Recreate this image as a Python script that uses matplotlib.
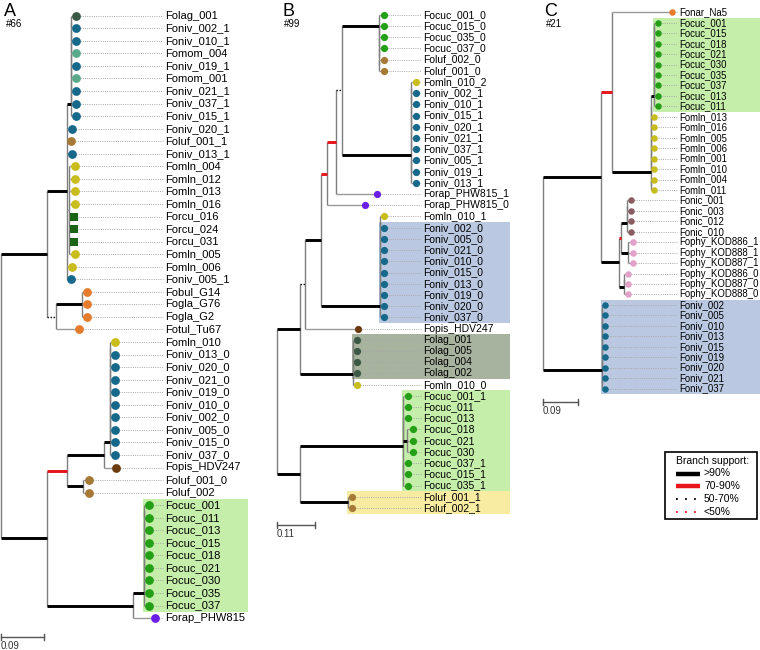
import matplotlib
matplotlib.use('Agg')
import matplotlib.pyplot as plt
from matplotlib.patches import Rectangle

plt.rcParams['font.family'] = ['Liberation Sans', 'DejaVu Sans']

# trees in newick, branch lengths in substitutions/site, node label = branch support (%)
tree_A = (
    "((("
    "((((((((Folag_001:0.0105,Foniv_002_1:0.0105):0,Foniv_010_1:0.0105):0,Fomom_004:0.0105):0,"
    "Foniv_019_1:0.0105):0,Fomom_001:0.0105):0,Foniv_021_1:0.0105):0,Foniv_037_1:0.0105):0,"
    "Foniv_015_1:0.0105)100:0.0084,"
    "Foniv_020_1:0.0105,Foluf_001_1:0.0084,Foniv_013_1:0.0105,"
    "(Fomln_004:0.0126,Fomln_012:0.0126,Fomln_013:0.0126,Fomln_016:0.0126,Forcu_016:0.0105,"
    "Forcu_024:0.0105,Forcu_031:0.0105,Fomln_005:0.0126):0.0042,"
    "Fomln_006:0.0105,Foniv_005_1:0.0084)100:0.0419,"
    "((Fobul_G14:0.0105,Fogla_G76:0.0105,Fogla_G2:0.0105)100:0.0544,Fotul_Tu67:0.0481)60:0.0188"
    ")100:0.0963,"
    "((("
    "(((((((((Fomln_010:0.0105,Foniv_013_0:0.0105):0,Foniv_020_0:0.0105):0,Foniv_021_0:0.0105):0,"
    "Foniv_019_0:0.0105):0,Foniv_010_0:0.0105):0,Foniv_002_0:0.0105):0,Foniv_005_0:0.0105):0,"
    "Foniv_015_0:0.0105):0,Foniv_037_0:0.0105)100:0.0126,"
    "Fopis_HDV247:0.0251)100:0.0774,"
    "(Foluf_001_0:0.0126,Foluf_002:0.0126)100:0.0335)80:0.0419,"
    "(((((((((Focuc_001:0.0105,Focuc_011:0.0105):0,Focuc_013:0.0105):0,Focuc_015:0.0105):0,"
    "Focuc_018:0.0105):0,Focuc_021:0.0105):0,Focuc_030:0.0105):0,Focuc_035:0.0105):0,"
    "Focuc_037:0.0105)100:0.023,"
    "Forap_PHW815:0.046)100:0.18"
    ")100:0.0963);"
)

tree_B = (
    "(("
    "((((("
    "(Focuc_001_0:0.0136,(Focuc_015_0:0.0136,(Focuc_035_0:0.0136,(Focuc_037_0:0.0136,"
    "(Foluf_002_0:0.0136,Foluf_001_0:0.0136):0):0):0):0)100:0.1071,"
    "(((((((Fomln_010_2:0.0136,Foniv_002_1:0.0136):0,Foniv_010_1:0.0136):0,Foniv_015_1:0.0136):0,"
    "Foniv_020_1:0.0136):0,Foniv_021_1:0.0136):0,Foniv_037_1:0.0136):0,"
    "(Foniv_005_1:0.0136,Foniv_019_1:0.0136,Foniv_013_1:0.0136):0)100:0.1988"
    ")60:0.0191,Forap_PHW815_1:0.1195)80:0.026,"
    "Forap_PHW815_0:0.1109)80:0.0174,"
    "(((((((((Fomln_010_1:0.0116,Foniv_002_0:0.0116):0,Foniv_005_0:0.0116):0,Foniv_021_0:0.0116):0,"
    "Foniv_010_0:0.0116):0,Foniv_015_0:0.0116):0,Foniv_013_0:0.0116):0,Foniv_019_0:0.0116):0,"
    "Foniv_020_0:0.0116):0,Foniv_037_0:0.0116)100:0.1716"
    ")100:0.0454,Fopis_HDV247:0.1534)60:0.0145,"
    "((((Folag_001:0.0098,Folag_005:0.0098):0,Folag_004:0.0098):0,Folag_002:0.0098):0,"
    "Fomln_010_0:0.0098)100:0.1543"
    ")100:0.0666,"
    "(((Focuc_001_1:0.0127,Focuc_011:0.0127,Focuc_013:0.0127,"
    "(Focuc_018:0.0174,Focuc_021:0.0174,Focuc_030:0.0174)100:0.0098):0,"
    "(Focuc_037_1:0.0127,Focuc_015_1:0.0127,Focuc_035_1:0.0127):0)100:0.299,"
    "(Foluf_001_1:0.0116,Foluf_002_1:0.0116)100:0.1381"
    ")100:0.0666);"
)

tree_C = (
    "(("
    "(Fonar_Na5:0.1558,"
    "((((((("
    "((((((((Focuc_001:0.0103,Focuc_015:0.0103):0,Focuc_018:0.0103):0,Focuc_021:0.0103):0,"
    "Focuc_030:0.0103):0,Focuc_035:0.0103):0,Focuc_037:0.0103):0,Focuc_013:0.0103):0,"
    "Focuc_011:0.0103)100:0.0085,"
    "Fomln_013:0.0085):0,Fomln_016:0.0085):0,Fomln_005:0.0085):0,Fomln_006:0.0085):0,"
    "Fomln_001:0.0085):0,Fomln_010:0.0085):0,(Fomln_004:0.0085,Fomln_011:0.0085):0)100:0.101"
    ")80:0.0275,"
    "(("
    "(((Fonic_001:0.0095,Fonic_003:0.0095):0,Fonic_012:0.0095):0,Fonic_010:0.0095)100:0.017,"
    "(Fophy_KOD886_1:0.0113,Fophy_KOD888_1:0.0113,Fophy_KOD887_1:0.0113)100:0.0195"
    ")80:0.0036,"
    "((Fophy_KOD886_0:0.0095,Fophy_KOD887_0:0.0095):0,Fophy_KOD888_0:0.0095)100:0.0129"
    ")100:0.0471"
    ")100:0.1499,"
    "(((((((Foniv_002:0.0077,Foniv_005:0.0077):0,Foniv_010:0.0077):0,Foniv_013:0.0077):0,"
    "Foniv_015:0.0077):0,Foniv_019:0.0077):0,Foniv_020:0.0077):0,"
    "(Foniv_021:0.0077,Foniv_037:0.0077):0)100:0.1525);"
)

# species colours (first 5 letters of the tip name)
species_colors = {
    'Folag': '#3b5944', 'Foniv': '#16698a', 'Fomom': '#5aa98a', 'Foluf': '#a67a36',
    'Fomln': '#c8bd1c', 'Forcu': '#1b6415', 'Fobul': '#e57b2c', 'Fogla': '#e57b2c',
    'Fotul': '#e57b2c', 'Fonar': '#e57b2c', 'Fopis': '#6b3b0d', 'Focuc': '#24a017',
    'Forap': '#6b1fe6', 'Fonic': '#8a5c64', 'Fophy': '#e3a0c9',
}
square_species = ['Forcu']

# highlighted clades: first tip, last tip, colour
highlights_A = [('Focuc_001', 'Focuc_037', '#c6eeab')]
highlights_B = [('Foniv_002_0', 'Foniv_037_0', '#bac9e1'),
                ('Folag_001', 'Folag_002', '#a8b39f'),
                ('Focuc_001_1', 'Focuc_035_1', '#c6eeab'),
                ('Foluf_001_1', 'Foluf_002_1', '#f8eca2')]
highlights_C = [('Focuc_001', 'Focuc_011', '#c6eeab'),
                ('Foniv_002', 'Foniv_037', '#bac9e1')]

panel_letters = ['A', 'B', 'C']
panel_counts = ['#66', '#99', '#21']
scale_values = [0.09, 0.11, 0.09]

legend_labels = ['>90%', '70-90%', '50-70%', '<50%']


def parse_newick(s):
    s = s.strip().rstrip(';')
    pos = 0

    def node():
        nonlocal pos
        n = {'children': [], 'name': '', 'support': None, 'length': 0.0}
        if s[pos] == '(':
            pos += 1
            while True:
                n['children'].append(node())
                if s[pos] == ',':
                    pos += 1
                    continue
                pos += 1  # ')'
                break
        start = pos
        while pos < len(s) and s[pos] not in ',():':
            pos += 1
        label = s[start:pos]
        if n['children']:
            if label:
                n['support'] = float(label)
        else:
            n['name'] = label
        if pos < len(s) and s[pos] == ':':
            pos += 1
            start = pos
            while pos < len(s) and s[pos] not in ',()':
                pos += 1
            n['length'] = float(s[start:pos])
        return n

    return node()


def layout(tree, x0, ppu, y0, dy):
    leaves = []

    def walk(n, depth):
        n['x'] = x0 + depth * ppu
        if not n['children']:
            n['y'] = y0 + len(leaves) * dy
            n['tips'] = [n['name']]
            leaves.append(n)
        else:
            n['tips'] = []
            for c in n['children']:
                walk(c, depth + c['length'])
                n['tips'] += c['tips']
            n['y'] = (n['children'][0]['y'] + n['children'][-1]['y']) / 2
    walk(tree, 0.0)
    return leaves


def find_clade(n, a, b):
    # deepest node holding both tips
    for c in n['children']:
        if a in c['tips'] and b in c['tips']:
            return find_clade(c, a, b)
    return n


def branch_style(n):
    if not n['children'] or n['support'] is None:
        return dict(color='#999999', lw=1.0)
    sup = n['support']
    if sup >= 90:
        return dict(color='black', lw=2.1)
    if sup >= 70:
        return dict(color='#e8141c', lw=2.1)
    if sup >= 50:
        return dict(color='black', lw=1.0, linestyle=(0, (1, 1.2)))
    return dict(color='#e8141c', lw=1.0, linestyle=(0, (1, 1.2)))


def draw_branches(ax, n):
    if not n['children']:
        return
    ax.plot([n['x'], n['x']], [n['children'][0]['y'], n['children'][-1]['y']],
            color='#7f7f7f', lw=1.0, zorder=2, solid_capstyle='butt')
    for c in n['children']:
        if c['x'] > n['x']:
            ax.plot([n['x'], c['x']], [c['y'], c['y']], zorder=3,
                    solid_capstyle='butt', **branch_style(c))
        draw_branches(ax, c)


def draw_panel(ax, newick, highlights, x0, ppu, y0, dy, label_x, box_right,
               fsize, dot_s, letter, count, scale_val, scale_y):
    tree = parse_newick(newick)
    leaves = layout(tree, x0, ppu, y0, dy)
    ypos = {l['name']: l['y'] for l in leaves}

    # coloured boxes behind clades
    for a, b, col in highlights:
        clade = find_clade(tree, a, b)
        top = ypos[a] - dy / 2
        ax.add_patch(Rectangle((clade['x'] - 1, top), box_right - clade['x'] + 1,
                               ypos[b] - ypos[a] + dy, facecolor=col,
                               edgecolor='none', zorder=0))

    draw_branches(ax, tree)

    r = (dot_s ** 0.5) * 100 / 72 / 2
    for l in leaves:
        sp = l['name'][:5]
        ax.plot([l['x'] + r, label_x - 2], [l['y'], l['y']], color='#a8a8a8',
                lw=0.7, linestyle=(0, (1, 1.3)), zorder=1)
        ax.scatter([l['x']], [l['y']], s=dot_s, color=species_colors[sp],
                   marker='s' if sp in square_species else 'o', linewidths=0, zorder=4)
        ax.text(label_x, l['y'], l['name'], fontsize=fsize, va='center', ha='left', zorder=5)

    # scale bar
    x1 = x0 + scale_val * ppu
    ax.plot([x0, x1], [scale_y, scale_y], color='#555555', lw=1.0)
    ax.plot([x0, x0], [scale_y - 3, scale_y + 3], color='#555555', lw=1.0)
    ax.plot([x1, x1], [scale_y - 3, scale_y + 3], color='#555555', lw=1.0)
    ax.text(x0, scale_y + 4, str(scale_val), fontsize=7, va='top', ha='left', color='#333333')

    # heading
    ax.text(letter[1], 16, letter[0], fontsize=13, va='baseline', ha='left')
    ax.text(letter[1] + 2, 27, count, fontsize=7, va='baseline', ha='left')


fig = plt.figure(figsize=(7.6, 6.5), dpi=100)
ax = fig.add_axes([0, 0, 1, 1])
ax.set_xlim(0, 760)
ax.set_ylim(650, 0)
ax.axis('off')

draw_panel(ax, tree_A, highlights_A, 1, 477.8, 15.7, 12.55, 165, 248, 8, 40,
           (panel_letters[0], 4), panel_counts[0], scale_values[0], 637)
draw_panel(ax, tree_B, highlights_B, 277, 345.5, 14.7, 11.21, 423.3, 510, 7.5, 27,
           (panel_letters[1], 282), panel_counts[1], scale_values[1], 525)
draw_panel(ax, tree_C, highlights_C, 542.7, 388.9, 12.3, 10.45, 679.3, 760, 6.9, 22,
           (panel_letters[2], 544), panel_counts[2], scale_values[2], 402)

# branch support legend
ax.add_patch(Rectangle((665, 452), 92, 67, facecolor='white', edgecolor='black', lw=1.2, zorder=6))
ax.text(676, 461.5, 'Branch support:', fontsize=7.5, va='center', ha='left', zorder=7)
legend_styles = [dict(color='black', lw=3.2),
                 dict(color='#e8141c', lw=3.2),
                 dict(color='black', lw=1.3, linestyle=(0, (1, 4))),
                 dict(color='#e8141c', lw=1.3, linestyle=(0, (1, 4)))]
for i, (lab, st) in enumerate(zip(legend_labels, legend_styles)):
    yy = 473.5 + i * 12.8
    ax.plot([676, 700], [yy, yy], zorder=7, solid_capstyle='butt', **st)
    ax.text(704, yy, lab, fontsize=7.5, va='center', ha='left', zorder=7)

fig.savefig('out.png', dpi=100)
